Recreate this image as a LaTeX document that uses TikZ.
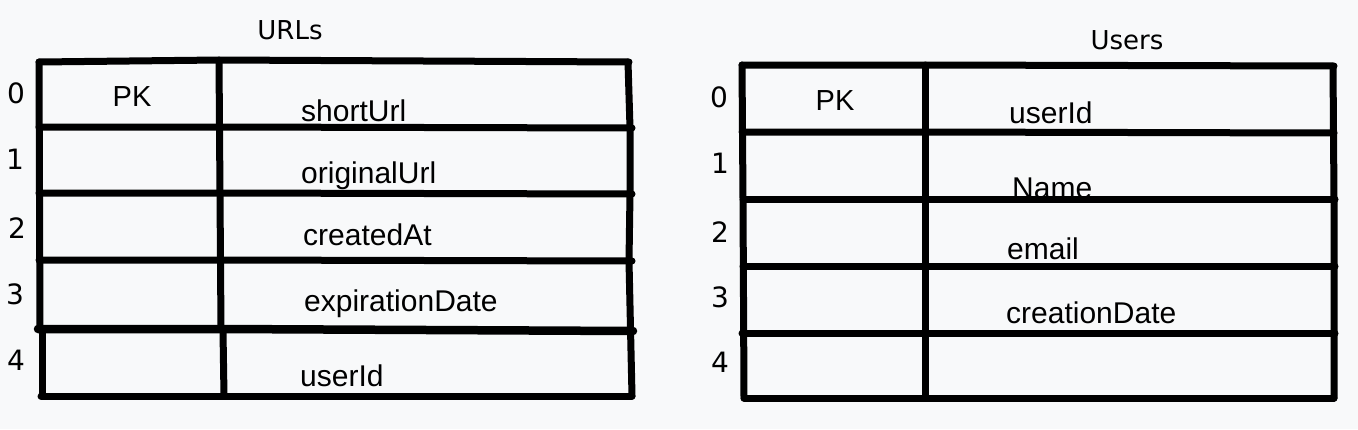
\documentclass[tikz,border=0pt]{standalone}
\usepackage{fontspec}
\setmainfont{Liberation Sans}
\newfontfamily\handfont{DejaVu Sans}
\definecolor{bgc}{RGB}{248,249,250}
\begin{document}
\begin{tikzpicture}[x=1pt,y=-1pt,
  rule/.style={line width=7pt,line cap=round,line join=round,black},
  field/.style={anchor=base west,inner sep=0pt,font=\fontsize{30}{36}\selectfont},
  pk/.style={inner sep=0pt,font=\fontsize{29}{34}\selectfont},
  idx/.style={inner sep=0pt,font=\handfont\fontsize{28}{32}\selectfont},
  title/.style={inner sep=0pt,font=\handfont\fontsize{26}{30}\selectfont}]
\fill[bgc] (0,0) rectangle (1358,429);
\useasboundingbox (0,0) rectangle (1358,429);

% ---- URLs table ----
\draw[rule] (39,62) -- (219,60) -- (629,62);
\draw[rule] (39,127) -- (220,127) -- (632,128);
\draw[rule] (39,193) -- (220,193) -- (632,194);
\draw[rule] (39,260) -- (221,260) -- (632,261);
\draw[rule,line width=8.5pt] (38,329) -- (222,329) -- (633,331);
\draw[rule] (41,396) -- (224,396) -- (632,396);
\draw[rule] (39,62) -- (40,329);
\draw[rule] (42,330) -- (42,396);
\draw[rule] (219,60) -- (221,329);
\draw[rule] (223,331) -- (224,396);
\draw[rule] (628,62) -- (630,128) -- (630,194) -- (629,261) -- (632,396);

\node[title] (t1) at (290,30) {URLs};
\node[pk] (pk1) at (132,97) {PK};
\node[field] (a0) at (301,121) {shortUrl};
\node[field] (a1) at (301,183) {originalUrl};
\node[field] (a2) at (303,245) {createdAt};
\node[field] (a3) at (304,311) {expirationDate};
\node[field] (a4) at (300,386) {userId};
\node[idx] (l0) at (16,93) {0};
\node[idx] (l1) at (15,159) {1};
\node[idx] (l2) at (17,228) {2};
\node[idx] (l3) at (15,294) {3};
\node[idx] (l4) at (16,360) {4};

% ---- Users table ----
\draw[rule] (742,65) -- (925,65) -- (1334,66);
\draw[rule] (742,132) -- (925,132) -- (1334,133);
\draw[rule] (743,199) -- (925,199) -- (1335,199);
\draw[rule] (743,266) -- (925,266) -- (1335,266);
\draw[rule] (742,333) -- (925,333) -- (1335,333);
\draw[rule] (744,398) -- (925,398) -- (1334,398);
\draw[rule] (742,65) -- (743,199) -- (744,398);
\draw[rule] (925,65) -- (925,398);
\draw[rule] (1333,66) -- (1334,199) -- (1334,398);

\node[title] (t2) at (1127,40) {Users};
\node[pk] (pk2) at (835,101) {PK};
\node[field] (b0) at (1009,123) {userId};
\node[field] (b1) at (1012,198) {Name};
\node[field] (b2) at (1007,259) {email};
\node[field] (b3) at (1006,323) {creationDate};
\node[idx] (r0) at (719,97) {0};
\node[idx] (r1) at (720,163) {1};
\node[idx] (r2) at (720,232) {2};
\node[idx] (r3) at (720,297) {3};
\node[idx] (r4) at (720,362) {4};
\end{tikzpicture}
\end{document}
